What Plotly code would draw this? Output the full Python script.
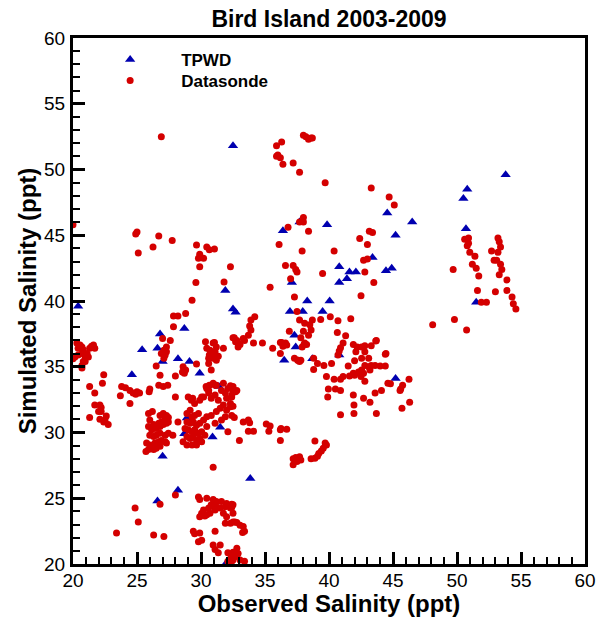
import plotly.graph_objects as go

# TPWD observations (observed, simulated)
tpwd_obs = [32.5, 44.55, 46.5, 39.85, 37.7, 36.4, 53.8, 50.8, 50.5, 45.2, 50.7, 43.4, 40.8, 41.6, 42.1,
            41.4, 40.8, 44.45, 44.9, 51.5, 38.3, 40.05, 37.95, 39.5, 40.8, 38.7, 45.2, 37.1, 36.95, 32.5,
            32.7, 37.3, 37.4, 36.5, 20.4, 31.9, 26.8, 28.7, 25.4, 26.6, 27.0, 28.2, 29.1, 29.9, 24.6,
            31.4, 28.9, 31.5, 30.9, 28.7, 27.0, 28.2, 26.6, 32.0, 33.85]
tpwd_sim = [51.8, 46.7, 46.0, 45.8, 46.0, 45.35, 49.6, 48.5, 47.8, 45.0, 45.5, 43.3, 42.6, 42.2, 42.2,
            41.7, 41.4, 42.3, 42.5, 39.9, 40.0, 40.0, 39.2, 39.2, 35.9, 35.6, 34.1, 41.4, 39.2, 39.4,
            39.15, 37.4, 36.5, 35.5, 39.6, 40.8, 37.5, 37.9, 36.3, 36.4, 35.4, 35.6, 35.4, 34.5, 34.4,
            33.5, 31.1, 30.4, 29.65, 29.9, 28.2, 25.6, 24.8, 20.1, 26.5]

# Datasonde observations, grouped by cloud
ds_upper = [(26.9, 52.5), (35.9, 51.8), (36.3, 52.1), (35.9, 51.0), (36.0, 51.1), (36.2, 50.9), (36.4, 50.4),
            (37.2, 50.5), (37.7, 49.8), (38.0, 52.6), (38.2, 52.5), (38.4, 52.3), (38.6, 52.4), (38.7, 52.4),
            (39.7, 49.0), (43.3, 48.6), (44.7, 47.9), (45.1, 47.3), (38.0, 46.35), (38.0, 46.0), (37.7, 46.0),
            (36.8, 45.6), (38.4, 45.3), (37.9, 43.8), (40.4, 43.8), (43.15, 45.3), (43.4, 45.2), (42.4, 44.75),
            (43.0, 44.3), (42.7, 43.1), (43.0, 43.2), (42.8, 42.2), (43.5, 41.4), (39.5, 42.1), (42.5, 40.4),
            (36.1, 44.3), (32.3, 42.6), (36.6, 42.7), (37.2, 42.7), (37.4, 42.4), (37.5, 42.2), (37.0, 41.7),
            (35.4, 41.05), (37.3, 40.3), (37.5, 39.2)]
ds_right = [(49.7, 42.4), (50.6, 44.7), (50.9, 44.8), (50.8, 44.2), (50.9, 44.4), (51.0, 43.7), (51.4, 43.4),
            (51.2, 42.8), (51.5, 42.5), (51.7, 41.9), (51.6, 40.8), (51.9, 39.9), (52.3, 39.9), (49.8, 38.6),
            (48.1, 38.2), (50.75, 37.8), (53.2, 44.8), (53.3, 44.5), (53.4, 44.1), (53.2, 43.7), (53.1, 43.1),
            (52.9, 43.1), (53.4, 42.8), (53.5, 42.4), (53.3, 42.0), (53.9, 41.6), (53.0, 40.7), (53.9, 40.8),
            (54.3, 40.3), (54.4, 39.8), (54.6, 39.4), (52.7, 43.8)]
ds_left_up = [(20.0, 45.8), (25.0, 45.25), (24.9, 45.1), (25.1, 43.65), (26.25, 44.1), (26.7, 44.95),
              (27.75, 44.6), (29.65, 44.25), (29.9, 43.55), (29.8, 43.25), (30.2, 43.25), (30.45, 44.1),
              (30.65, 43.9), (31.05, 43.95), (29.9, 42.6), (29.6, 41.4), (31.8, 41.45), (29.3, 40.05),
              (28.8, 39.05), (27.85, 38.85), (28.2, 38.85), (27.85, 38.05), (27.6, 37.0), (27.0, 37.15),
              (27.3, 36.15), (27.2, 35.9), (27.1, 35.65), (26.5, 35.05), (26.8, 34.35), (28.0, 34.3),
              (28.55, 34.6), (28.7, 34.5), (29.65, 35.2), (30.45, 36.4), (30.65, 35.9), (30.8, 36.15),
              (30.95, 36.8), (31.2, 36.5), (31.1, 35.75), (31.35, 35.8), (31.2, 35.5), (31.75, 36.4),
              (30.6, 35.25), (30.8, 34.75), (30.35, 36.9), (30.7, 36.25), (30.95, 35.65), (30.6, 35.65),
              (31.1, 36.15), (31.05, 36.85), (32.6, 37.2), (32.7, 36.9), (32.9, 36.8), (32.3, 33.55),
              (32.5, 33.5), (22.4, 34.4), (30.4, 33.5), (30.65, 33.6), (30.95, 33.75), (31.2, 33.6),
              (26.9, 36.0), (27.1, 36.25), (27.3, 36.5), (28.8, 34.75), (28.6, 35.0)]
ds_edge = [(20.3, 36.8), (20.55, 36.65), (20.4, 36.4), (20.7, 36.5), (20.8, 36.3), (20.7, 36.0), (20.4, 35.9),
           (20.15, 35.75), (20.95, 35.75), (21.1, 36.0), (21.3, 36.4), (21.45, 36.55), (21.6, 36.65),
           (21.7, 36.4), (21.2, 35.75), (20.8, 35.4), (20.95, 35.4), (20.7, 35.1), (20.7, 34.9), (20.0, 35.6)]
ds_mid = [(33.9, 38.55), (34.2, 38.8), (33.8, 38.1), (33.9, 37.8), (33.7, 37.4), (33.3, 37.15), (33.05, 36.7),
          (32.8, 37.0), (32.5, 37.2), (32.9, 36.5), (33.4, 37.0), (34.1, 36.8), (34.8, 36.8), (35.6, 36.4),
          (36.2, 36.0), (36.3, 36.85), (36.6, 36.8), (36.7, 36.65), (36.2, 36.85), (36.4, 36.55), (37.7, 35.4),
          (37.3, 35.65), (37.6, 35.5), (38.7, 38.55), (39.35, 38.6), (40.1, 38.8), (40.7, 38.5), (41.7, 38.65),
          (38.5, 38.2), (38.6, 37.8), (38.4, 37.4), (38.1, 36.8), (36.9, 37.7), (40.65, 37.6), (41.3, 37.35),
          (38.25, 36.7), (38.05, 36.7), (37.9, 36.5), (37.8, 37.2), (38.0, 37.7), (38.1, 38.3), (37.55, 35.5),
          (37.8, 35.5)]
ds_mid_right = [(38.8, 35.65), (39.1, 35.25), (38.8, 34.8), (39.6, 35.1), (40.2, 35.25), (39.8, 34.25),
                (40.4, 34.05), (40.9, 34.05), (39.95, 33.3), (40.5, 33.3), (40.9, 33.2), (39.9, 32.7),
                (41.9, 32.85), (42.7, 32.6), (43.6, 33.0), (44.1, 33.2), (44.6, 33.75), (45.6, 33.3),
                (45.75, 33.6), (46.25, 34.05), (44.45, 36.0), (43.65, 36.95), (43.3, 36.6), (42.8, 36.6),
                (42.55, 36.5), (41.9, 36.7), (42.2, 36.5), (41.1, 36.8), (40.9, 36.45), (40.8, 36.2),
                (42.1, 36.15), (42.8, 36.15), (42.55, 35.65), (43.1, 35.65), (42.0, 35.45), (41.5, 35.05),
                (42.8, 35.1), (43.1, 35.0), (43.3, 35.1), (43.6, 35.1), (44.0, 35.05), (44.4, 35.05),
                (42.55, 34.75), (42.3, 34.6), (43.2, 34.75), (41.6, 34.3), (42.0, 34.35), (42.7, 34.5),
                (42.8, 33.9), (40.7, 35.9), (37.7, 38.55), (40.9, 31.35), (41.95, 32.1), (41.95, 31.45),
                (43.2, 32.3), (43.7, 31.45), (46.3, 32.3), (45.7, 31.85), (44.8, 33.7), (45.55, 33.2),
                (41.1, 34.25), (41.9, 34.5), (42.5, 34.25), (43.7, 37.0), (44.4, 35.95)]
ds_low_mid = [(32.5, 33.2), (32.7, 33.1), (32.4, 32.7), (32.3, 32.2), (32.5, 32.0), (32.6, 31.15), (33.3, 30.8),
              (33.7, 30.95), (33.8, 30.75), (33.7, 30.1), (34.1, 30.1), (33.0, 29.4), (35.1, 30.65), (35.4, 30.5),
              (35.3, 30.1), (36.25, 30.3), (36.7, 30.25), (36.2, 30.2), (36.2, 29.4), (38.9, 29.35), (39.7, 29.2),
              (39.8, 29.05), (39.55, 28.8), (39.4, 28.6), (39.2, 28.4), (39.1, 28.2), (38.9, 28.05), (38.6, 28.0),
              (37.2, 28.0), (37.4, 28.1), (37.7, 28.15), (37.8, 27.9), (37.5, 27.8), (37.2, 27.55), (32.5, 24.5),
              (32.4, 24.3), (32.5, 23.2), (32.8, 23.15), (33.05, 22.95), (33.3, 22.85), (33.4, 22.5), (33.25, 22.4),
              (32.8, 21.2), (32.5, 20.9), (32.9, 20.8), (32.65, 20.55), (32.3, 20.4), (33.05, 20.3), (33.4, 20.2),
              (32.4, 20.2)]
ds_low_left = [(21.3, 33.5), (21.7, 33.0), (22.3, 33.75), (21.7, 32.1), (22.1, 32.1), (22.2, 31.9), (22.2, 31.6),
               (22.0, 31.6), (21.3, 31.15), (22.1, 31.0), (22.4, 30.8), (22.6, 31.25), (22.75, 30.6), (22.5, 30.95),
               (23.8, 33.5), (24.1, 33.4), (24.45, 33.2), (24.7, 33.0), (25.0, 33.1), (25.2, 33.0), (24.9, 32.9),
               (25.95, 33.1), (26.0, 33.3), (26.7, 33.6), (27.05, 33.5), (27.4, 33.6), (23.7, 32.8), (24.45, 32.2),
               (25.9, 31.45), (26.2, 31.6), (26.0, 30.95), (26.8, 31.3), (27.05, 31.45), (27.3, 31.3), (27.45, 31.15),
               (27.2, 31.0), (26.9, 30.8), (26.7, 30.7), (26.3, 30.6), (25.9, 30.45), (26.15, 30.2), (26.5, 30.3),
               (26.8, 30.45), (27.05, 30.6), (27.3, 30.7), (27.45, 30.8), (26.0, 29.8), (26.3, 29.7), (26.5, 29.8),
               (26.8, 29.95), (27.2, 29.8), (27.45, 29.95), (27.8, 29.8), (25.75, 29.2), (26.0, 29.05), (26.4, 29.2),
               (26.7, 29.3), (26.9, 29.4), (27.2, 29.3), (27.3, 29.2), (26.8, 28.95), (26.5, 28.8), (26.3, 28.7),
               (25.9, 28.7), (25.7, 28.55), (28.2, 30.8), (28.9, 31.45), (29.15, 31.7), (29.3, 31.2), (29.5, 31.3),
               (29.8, 31.45), (28.9, 30.8), (29.15, 30.7), (29.4, 30.8), (29.65, 30.55), (29.9, 30.7), (28.75, 30.3),
               (29.0, 30.2), (29.3, 30.05), (29.5, 30.2), (29.8, 29.95), (30.05, 30.05), (28.9, 29.7), (29.15, 29.55),
               (29.4, 29.7), (29.65, 29.4), (29.9, 29.55), (28.6, 29.3), (28.9, 29.05), (29.3, 29.05), (29.65, 29.05),
               (30.05, 29.3), (30.3, 29.8), (30.45, 30.45), (30.2, 30.95), (29.0, 32.7), (29.25, 32.45), (29.5, 32.2),
               (29.9, 32.45), (30.2, 32.7), (30.45, 33.35), (30.6, 33.0), (30.8, 32.6), (31.1, 32.85), (31.35, 32.45),
               (31.6, 33.2), (31.9, 33.0), (32.0, 32.6), (32.1, 33.35), (32.4, 32.85), (31.75, 32.1), (31.5, 31.85),
               (31.2, 31.6), (32.0, 31.7), (32.3, 31.95), (32.4, 31.3), (31.9, 31.2), (31.6, 30.95), (31.1, 30.7),
               (30.8, 31.3), (30.45, 31.2), (32.1, 30.05), (30.95, 27.35), (29.35, 32.6), (30.05, 32.7), (28.0, 32.7),
               (30.6, 33.2), (31.1, 33.6), (31.75, 33.75), (32.8, 33.2)]
ds_bottom = [(24.85, 24.25), (25.1, 23.2), (23.4, 22.35), (26.3, 22.2), (27.1, 22.1), (28.0, 25.25), (26.8, 24.55),
             (29.8, 25.1), (29.9, 24.9), (30.45, 25.0), (30.95, 24.9), (31.2, 24.75), (31.6, 24.75), (32.0, 24.6),
             (32.4, 24.55), (32.3, 24.25), (31.9, 24.35), (31.5, 24.25), (31.1, 24.1), (30.7, 23.85), (30.45, 23.75),
             (30.05, 23.85), (30.2, 24.1), (30.6, 24.25), (30.8, 24.5), (31.2, 24.35), (31.75, 23.85), (32.0, 23.6),
             (32.5, 23.85), (32.65, 23.2), (32.3, 23.1), (31.9, 23.1), (29.9, 23.6), (30.3, 23.65), (29.4, 22.5),
             (29.5, 22.3), (29.9, 22.35), (30.05, 21.8), (29.8, 21.7), (31.1, 22.5), (30.95, 21.45), (31.5, 21.45),
             (31.1, 21.1), (31.35, 20.85), (32.1, 20.85), (32.4, 20.6), (32.5, 20.3), (32.8, 20.7), (32.1, 20.2)]

datasonde = ds_upper + ds_right + ds_left_up + ds_edge + ds_mid + ds_mid_right + ds_low_mid + ds_low_left + ds_bottom
ds_obs = [p[0] for p in datasonde]
ds_sim = [p[1] for p in datasonde]

font = "Arial, Liberation Sans, sans-serif"

fig = go.Figure()
fig.add_trace(go.Scatter(x=tpwd_obs, y=tpwd_sim, mode="markers", name="<b>TPWD</b>", legend="legend",
                         marker=dict(symbol="triangle-up", size=9, color="#0000b0",
                                     line=dict(width=0))))
fig.add_trace(go.Scatter(x=ds_obs, y=ds_sim, mode="markers", name="<b>Datasonde</b>", legend="legend2",
                         marker=dict(symbol="circle", size=7, color="#d40000",
                                     line=dict(width=0))))

axis_common = dict(
    showline=True, linecolor="black", linewidth=3, mirror=True, automargin=False,
    ticks="inside", ticklen=12, tickwidth=2.5, tickcolor="black",
    dtick=5, showgrid=False, zeroline=False, ticklabeloverflow="allow",
    tickfont=dict(family=font, size=19, color="black"),
    minor=dict(ticks="inside", ticklen=7, tickwidth=1.5, tickcolor="black", dtick=1, showgrid=False),
)

fig.update_xaxes(range=[20, 60], ticklabelstandoff=-3,
                 title=dict(text="<b>Observed Salinity (ppt)</b>", standoff=0,
                            font=dict(family=font, size=24, color="black")),
                 **axis_common)
fig.update_yaxes(range=[20, 60], ticklabelstandoff=1,
                 title=dict(text="<b>Simulated Salinity (ppt)</b>", standoff=1,
                            font=dict(family=font, size=24, color="black")),
                 **axis_common)

legend_common = dict(xanchor="left", yanchor="middle", itemwidth=92, bgcolor="rgba(0,0,0,0)",
                     font=dict(family=font, size=17, color="black"))

fig.update_layout(
    width=598, height=617,
    margin=dict(l=73, r=13, t=38, b=53),
    paper_bgcolor="white", plot_bgcolor="white",
    title=dict(text="<b>Bird Island 2003-2009</b>", xref="paper", x=0.5, xanchor="center",
               y=1 - 19 / 617, yanchor="middle",
               font=dict(family=font, size=23, color="black")),
    showlegend=True,
    legend=dict(x=0.012, y=1 - 22 / 526, **legend_common),
    legend2=dict(x=0.012, y=1 - 43 / 526, **legend_common),
)

# drop the default page margin so the figure fills the window exactly
fig.write_html("out.html", config={"displayModeBar": False},
               post_script="document.body.style.margin='0';")
